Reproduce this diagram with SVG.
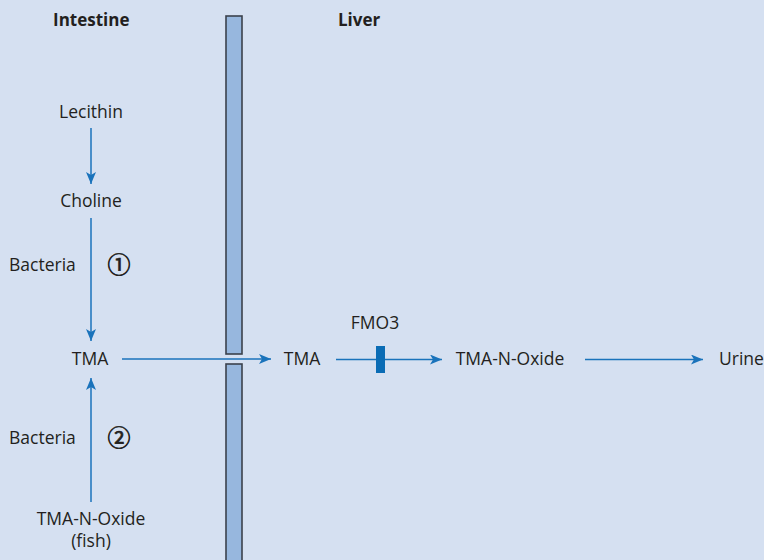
<svg xmlns="http://www.w3.org/2000/svg" width="764" height="560" viewBox="0 0 764 560">
  <defs>
    <style>
      .t { font-family: "Open Sans", "Noto Sans", "Liberation Sans", sans-serif; font-size: 17.5px; fill: #231f20; }
      .h { font-family: "Open Sans", "Noto Sans", "Liberation Sans", sans-serif; font-size: 17px; font-weight: bold; fill: #231f20; }
      .n { font-family: "Noto Sans CJK JP", "DejaVu Sans", sans-serif; font-size: 23px; fill: #231f20; stroke: #231f20; stroke-width: 0.7; }
      .wall { fill: #97b7de; stroke: #3b414c; stroke-width: 1.6; }
      .arr { stroke: #1a73bb; stroke-width: 1.5; fill: none; marker-end: url(#head); }
    </style>
    <marker id="head" markerUnits="userSpaceOnUse" markerWidth="14" markerHeight="12" refX="12" refY="5" orient="auto" viewBox="0 0 14 12">
      <path d="M0,0 L12,5 L0,10 L3,5 z" fill="#1a73bb"/>
    </marker>
  </defs>
  <rect width="764" height="560" fill="#d5e0f1"/>

  <!-- membrane between intestine and liver -->
  <g id="membrane">
    <rect class="wall" x="226" y="16" width="16" height="338"/>
    <rect class="wall" x="226" y="364" width="16" height="200"/>
  </g>

  <g id="headers">
    <text class="h" x="53" y="26">Intestine</text>
    <text class="h" x="338" y="26">Liver</text>
  </g>

  <g id="lecithin"><text class="t" x="91" y="118" text-anchor="middle">Lecithin</text></g>
  <g id="choline"><text class="t" x="91" y="207" text-anchor="middle">Choline</text></g>
  <g id="bacteria1">
    <text class="t" x="9" y="271">Bacteria</text>
    <text class="n" x="119" y="273" text-anchor="middle">①</text>
  </g>
  <g id="tma-intestine"><text class="t" x="90" y="365" text-anchor="middle">TMA</text></g>
  <g id="bacteria2">
    <text class="t" x="9" y="444">Bacteria</text>
    <text class="n" x="119" y="446" text-anchor="middle">②</text>
  </g>
  <g id="tmao-fish">
    <text class="t" x="91" y="525" text-anchor="middle">TMA-N-Oxide</text>
    <text class="t" x="91" y="547" text-anchor="middle">(fish)</text>
  </g>
  <g id="tma-liver"><text class="t" x="302" y="365" text-anchor="middle">TMA</text></g>
  <g id="fmo3">
    <text class="t" x="375" y="329" text-anchor="middle">FMO3</text>
  </g>
  <g id="tmao-liver"><text class="t" x="510" y="365" text-anchor="middle">TMA-N-Oxide</text></g>
  <g id="urine"><text class="t" x="719" y="365">Urine</text></g>

  <g id="connectors">
    <line class="arr" x1="91" y1="128" x2="91" y2="184"/>
    <line class="arr" x1="91" y1="218" x2="91" y2="341"/>
    <line class="arr" x1="91" y1="502" x2="91" y2="378"/>
    <line class="arr" x1="122" y1="359" x2="271" y2="359"/>
    <line class="arr" x1="336" y1="359.5" x2="442" y2="359.5"/>
    <line class="arr" x1="585" y1="359.5" x2="703" y2="359.5"/>
    <!-- FMO3 block on the oxidation step -->
    <rect x="376" y="346" width="9" height="27" fill="#0a6cb5"/>
  </g>
</svg>
